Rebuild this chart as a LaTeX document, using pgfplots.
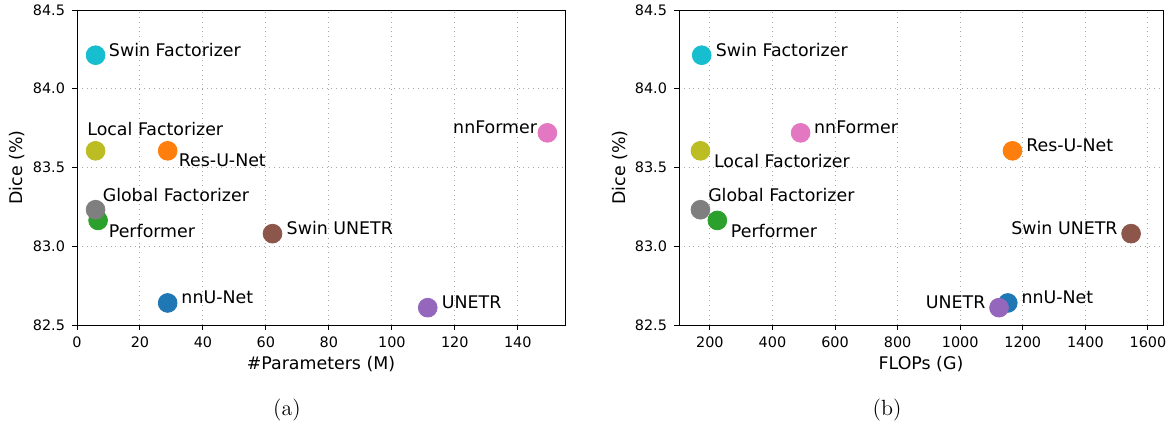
\documentclass[border=0pt]{standalone}
\usepackage{fontspec}
\usepackage{pgfplots}
\pgfplotsset{compat=1.18}
\newfontfamily\dejavu{DejaVu Sans}
\definecolor{tabblue}{HTML}{1F77B4}
\definecolor{taborange}{HTML}{FF7F0E}
\definecolor{tabgreen}{HTML}{2CA02C}
\definecolor{tabpurple}{HTML}{9467BD}
\definecolor{tabbrown}{HTML}{8C564B}
\definecolor{tabpink}{HTML}{E377C2}
\definecolor{tabgray}{HTML}{7F7F7F}
\definecolor{tabolive}{HTML}{BCBD22}
\definecolor{tabcyan}{HTML}{17BECF}
\newcommand{\lf}{\dejavu\fontsize{8.7}{10}\selectfont}
\tikzset{
  dot/.style={only marks, mark=*, mark size=4.7pt, mark options={draw=#1, fill=#1}},
  lab/.style={font=\lf, inner sep=0pt},
}
\pgfplotsset{
 myax/.style={
  scale only axis, height=157.5pt,
  anchor=south west,
  ymin=82.5, ymax=84.5, ytick={82.5,83,83.5,84,84.5},
  /pgf/number format/assume math mode=true,
  /pgf/number format/1000 sep={},
  y tick label style={/pgf/number format/.cd, fixed, fixed zerofill, precision=1, /tikz/.cd},
  tick label style={font=\dejavu\fontsize{7.2}{8}\selectfont},
  label style={font=\lf},
  grid=major, major grid style={black!35, dotted, line width=0.5pt},
  tick align=outside, xtick pos=bottom, ytick pos=left, major tick length=2.5pt,
  tick style={black, line width=0.5pt},
  axis line style={line width=0.5pt},
  ylabel={Dice (\%)},
  ylabel style={at={(axis description cs:-0.123,0.5)}, anchor=center},
  xlabel style={at={(axis description cs:0.5,-0.124)}, anchor=center},
  clip=false,
 }
}
\begin{document}
\begin{tikzpicture}
\path[use as bounding box] (0,0) rectangle (585pt,215pt);
\begin{axis}[myax, at={(38.5pt,52.5pt)}, width=244pt,
  xmin=0, xmax=155, xtick={0,20,...,140}, xlabel={\#Parameters (M)}]
\addplot[dot=tabblue] coordinates {(28.8,82.64)};
\addplot[dot=taborange] coordinates {(28.8,83.606)};
\addplot[dot=tabgreen] coordinates {(6.7,83.164)};
\addplot[dot=tabpurple] coordinates {(111.4,82.61)};
\addplot[dot=tabbrown] coordinates {(62.1,83.08)};
\addplot[dot=tabpink] coordinates {(149.4,83.72)};
\addplot[dot=tabgray] coordinates {(5.9,83.232)};
\addplot[dot=tabolive] coordinates {(5.9,83.606)};
\addplot[dot=tabcyan] coordinates {(5.9,84.213)};
\node[lab, anchor=west, xshift=6.7pt, yshift=2.9pt] at (axis cs:28.8,82.64) {nnU-Net};
\node[lab, anchor=west, xshift=5.4pt, yshift=-4.9pt] at (axis cs:28.8,83.606) {Res-U-Net};
\node[lab, anchor=west, xshift=5.2pt, yshift=-5.2pt] at (axis cs:6.7,83.164) {Performer};
\node[lab, anchor=west, xshift=6.9pt, yshift=2.7pt] at (axis cs:111.4,82.61) {UNETR};
\node[lab, anchor=west, xshift=6.9pt, yshift=2.7pt] at (axis cs:62.1,83.08) {Swin UNETR};
\node[lab, anchor=east, xshift=-5pt, yshift=2.9pt] at (axis cs:149.4,83.72) {nnFormer};
\node[lab, anchor=west, xshift=3.4pt, yshift=7.2pt] at (axis cs:5.9,83.232) {Global Factorizer};
\node[lab, anchor=west, xshift=-4.3pt, yshift=10.8pt] at (axis cs:5.9,83.606) {Local Factorizer};
\node[lab, anchor=west, xshift=6.5pt, yshift=2.7pt] at (axis cs:5.9,84.213) {Swin Factorizer};
\end{axis}
\begin{axis}[myax, at={(339.5pt,52.5pt)}, width=242pt,
  xmin=101.5, xmax=1648, xtick={200,400,...,1600}, xlabel={FLOPs (G)},
  ylabel style={at={(axis description cs:-0.122,0.5)}}]
\addplot[dot=tabblue] coordinates {(1152,82.64)};
\addplot[dot=taborange] coordinates {(1167,83.606)};
\addplot[dot=tabgreen] coordinates {(224,83.164)};
\addplot[dot=tabpurple] coordinates {(1124,82.61)};
\addplot[dot=tabbrown] coordinates {(1546,83.08)};
\addplot[dot=tabpink] coordinates {(490,83.72)};
\addplot[dot=tabgray] coordinates {(170,83.232)};
\addplot[dot=tabolive] coordinates {(170,83.606)};
\addplot[dot=tabcyan] coordinates {(174,84.213)};
\node[lab, anchor=west, xshift=6.7pt, yshift=2.9pt] at (axis cs:1152,82.64) {nnU-Net};
\node[lab, anchor=west, xshift=6.7pt, yshift=2.9pt] at (axis cs:1167,83.606) {Res-U-Net};
\node[lab, anchor=west, xshift=6.6pt, yshift=-5.2pt] at (axis cs:224,83.164) {Performer};
\node[lab, anchor=east, xshift=-6.6pt, yshift=2.7pt] at (axis cs:1124,82.61) {UNETR};
\node[lab, anchor=east, xshift=-6.6pt, yshift=2.9pt] at (axis cs:1546,83.08) {Swin UNETR};
\node[lab, anchor=west, xshift=6.6pt, yshift=2.9pt] at (axis cs:490,83.72) {nnFormer};
\node[lab, anchor=west, xshift=3.7pt, yshift=7.2pt] at (axis cs:170,83.232) {Global Factorizer};
\node[lab, anchor=west, xshift=6.6pt, yshift=-5.2pt] at (axis cs:170,83.606) {Local Factorizer};
\node[lab, anchor=west, xshift=6.9pt, yshift=2.5pt] at (axis cs:174,84.213) {Swin Factorizer};
\end{axis}
\node[font=\fontsize{11}{13}\selectfont] at (143.5pt,10pt) {(a)};
\node[font=\fontsize{11}{13}\selectfont] at (443.5pt,10pt) {(b)};
\end{tikzpicture}
\end{document}
